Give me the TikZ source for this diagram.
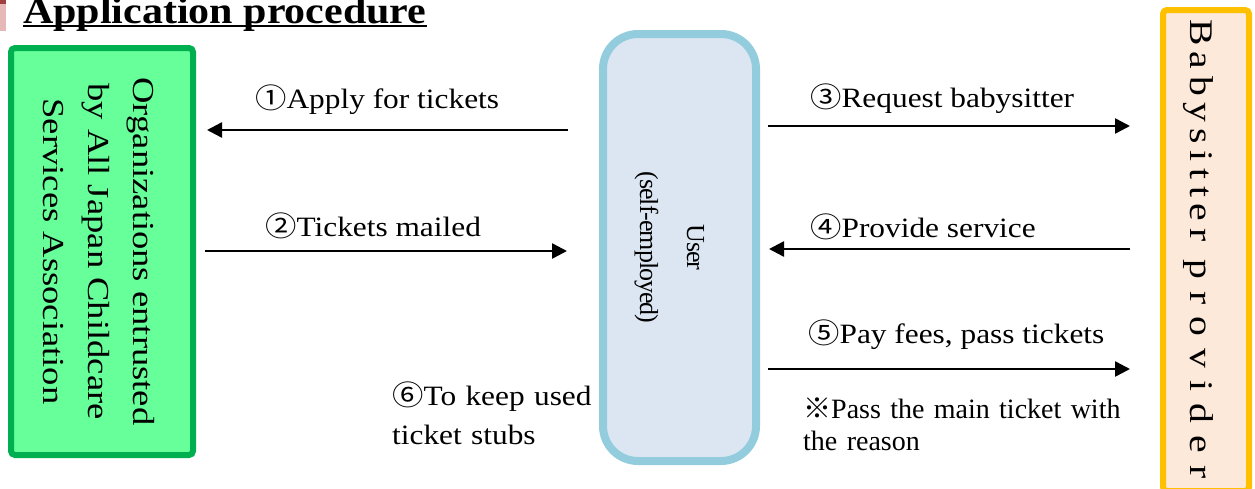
\documentclass[tikz,border=0pt]{standalone}
\usepackage{fontspec}
\setmainfont{Liberation Serif}
\newfontfamily\lab[FakeStretch=1.12]{Liberation Serif}
\newfontfamily\labnum[FakeStretch=1.12]{Noto Sans CJK JP}
\newfontfamily\cjk{Noto Sans CJK JP}
\newfontfamily\orgf[FakeStretch=1.2]{Liberation Serif}
\newfontfamily\userf[LetterSpace=-4]{Liberation Serif}
\newfontfamily\bsf[FakeStretch=1.2,LetterSpace=20]{Liberation Serif}
\newfontfamily\bsfw[FakeStretch=1.2,LetterSpace=37]{Liberation Serif}
\usetikzlibrary{arrows.meta}
\definecolor{orgline}{HTML}{00B050}
\definecolor{orgfill}{HTML}{66FF99}
\definecolor{userline}{HTML}{93CDDD}
\definecolor{userfill}{HTML}{DCE6F2}
\definecolor{bsline}{HTML}{FFC000}
\definecolor{bsfill}{HTML}{FDE9D9}
\definecolor{barpink}{HTML}{E6B9B8}
\definecolor{barred}{HTML}{A0403E}
\begin{document}
\begin{tikzpicture}[x=1pt,y=-1pt,
  arr/.style={line width=2.5pt,-{Triangle[length=15pt,width=15pt]}},
  lbl/.style={anchor=base west,inner sep=0pt,font=\lab\fontsize{28}{34}\selectfont},
  orgbox/.style={rotate=-90,draw=orgline,fill=orgfill,line width=6pt,rounded corners=4pt,
    minimum width=407pt,minimum height=182pt,inner sep=0pt,outer sep=0pt,align=center,
    text height=125pt,text depth=7pt,font=\orgf\fontsize{30.5}{45}\selectfont},
  userbox/.style={rotate=-90,draw=userline,fill=userfill,line width=8pt,rounded corners=35pt,
    minimum width=427pt,minimum height=153pt,inner sep=0pt,outer sep=0pt,align=center,
    text height=83pt,text depth=4pt,font=\userf\fontsize{26}{47}\selectfont},
  bsbox/.style={rotate=-90,draw=bsline,fill=bsfill,line width=6pt,rounded corners=4pt,
    minimum height=86pt,inner xsep=9pt,inner ysep=0pt,outer sep=0pt,text width=463pt,align=left,
    text height=36pt,text depth=4pt,font=\bsf\fontsize{33}{40}\selectfont}]
\clip (0,0) rectangle (1255,488);
\fill[white] (0,0) rectangle (1255,488);
\fill[barpink] (0,0) rectangle (6,31);
\fill[barred] (0,0) rectangle (6,4);
\node[anchor=base west,inner sep=0pt,font=\lab\bfseries\fontsize{37.5}{40}\selectfont] (title) at (23,23) {Application procedure};
\draw[line width=2.5pt] ([yshift=-3pt]title.base west) -- ([yshift=-3pt]title.base east);
\node[orgbox] (org) at (102,251.5) {Organizations entrusted\\by All Japan Childcare\\Services Association};
\node[userbox] (user) at (679.5,247.5) {User\\(self-employed)};
\node[bsbox] (bs) at (1206,250.5) {\mbox{Babysitter\hspace{18pt}{\bsfw provider}}};
\draw[arr,shorten <=35pt,shorten >=14pt] (user.south |- 0,130) -- (org.north |- 0,130);
\draw[arr,shorten <=12pt,shorten >=36pt] (org.north |- 0,251) -- (user.south |- 0,251);
\draw[arr,shorten <=12pt,shorten >=33pt] (user.north |- 0,126) -- (bs.south |- 0,126);
\draw[arr,shorten <=33pt,shorten >=13pt] (bs.south |- 0,249) -- (user.north |- 0,249);
\draw[arr,shorten <=12pt,shorten >=33pt] (user.north |- 0,369) -- (bs.south |- 0,369);
\node[lbl] (l1) at (255,108) {{\labnum ①}Apply for tickets};
\node[lbl] (l2) at (265,236) {{\labnum ②}Tickets mailed};
\node[lbl] (l3) at (810,107) {{\labnum ③}Request babysitter};
\node[lbl] (l4) at (810,237) {{\labnum ④}Provide service};
\node[lbl] (l5) at (808,343) {{\labnum ⑤}Pay fees, pass tickets};
\node[lbl,text width=230pt,align=left,font=\lab\fontsize{28}{39}\selectfont] (l6) at (392,405) {{\labnum ⑥}To keep used\\ticket stubs};
\node[lbl,text width=340pt,align=left,font=\fontsize{28}{32}\selectfont] (note) at (803,418) {{\cjk ※}Pass the main ticket with\\the reason};
\end{tikzpicture}
\end{document}
